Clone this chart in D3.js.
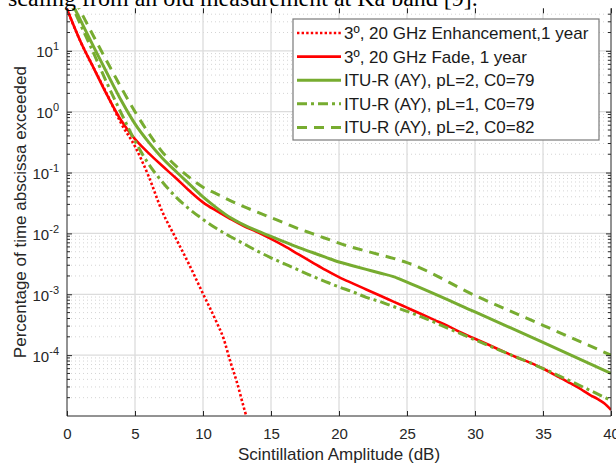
<!DOCTYPE html>
<html>
<head>
<meta charset="utf-8">
<script src="https://cdn.jsdelivr.net/npm/d3@7"></script>
<style>
  body { margin: 0; background: #fff; }
  svg { display: block; font-family: "Liberation Sans", Arial, sans-serif; }
</style>
</head>
<body>
<div id="wrapper"></div>
<script>
// amplitude (dB) and percentage of time
const enhX = [0, 1, 2, 3, 4, 5, 6, 7, 8, 9, 10, 11, 11.5, 12, 12.5, 13, 13.25];
const enhY = [48.5, 14.1, 5.01, 1.82, 0.631, 0.269, 0.0871, 0.0229, 0.00832, 0.00302,
  0.00102, 0.000347, 0.000191, 0.0000794, 0.0000355, 0.0000138, 0.0000089];

const fadeX = [0, 1, 2, 3, 4, 4.5, 5, 5.5, 6, 7, 8, 9, 10, 11, 12, 13, 14, 15, 16, 17, 18, 19, 20,
  21, 22, 23, 24, 25, 26, 27, 28, 29, 30, 31, 32, 33, 34, 35, 36, 36.5, 37, 37.5, 38, 38.5, 39, 39.5, 40];
const fadeY = [48.5, 14.1, 5.01, 1.78, 0.708, 0.490, 0.355, 0.269, 0.209, 0.129, 0.0813, 0.0501, 0.0324,
  0.0234, 0.0174, 0.0132, 0.0105, 0.00813, 0.00617, 0.00457, 0.00339, 0.00251, 0.00191,
  0.00151, 0.00120, 0.000955, 0.000759, 0.000603, 0.000479, 0.000380, 0.000302, 0.000234, 0.000186,
  0.000148, 0.000117, 0.0000933, 0.0000759, 0.0000603, 0.0000457, 0.0000400, 0.0000347, 0.0000302,
  0.0000257, 0.0000219, 0.0000191, 0.0000162, 0.0000126];

const ituX = [0, 1, 2, 3, 4, 5, 6, 7, 8, 9, 10, 11, 12, 13, 14, 15, 16, 17, 18, 19, 20,
  21, 22, 23, 24, 25, 30, 35, 40];
const itu279 = [89.1, 31.6, 11.2, 4.07, 1.51, 0.631, 0.316, 0.174, 0.105, 0.0646, 0.0398,
  0.0263, 0.0182, 0.0138, 0.0110, 0.00891, 0.00724, 0.00589, 0.00490, 0.00407, 0.00339,
  0.00295, 0.00257, 0.00224, 0.00195, 0.00158, 0.000513, 0.000162, 0.0000501];
const itu179 = [83.2, 26.9, 8.71, 2.75, 0.933, 0.331, 0.138, 0.0708, 0.0398, 0.0251, 0.0170,
  0.0120, 0.00891, 0.00676, 0.00513, 0.00398, 0.00316, 0.00251, 0.00200, 0.00162, 0.00132,
  0.00110, 0.000891, 0.000760, 0.000630, 0.000525, 0.000178, 0.0000603, 0.0000180];
const itu282 = [120, 44.7, 16.6, 6.31, 2.45, 1.0, 0.447, 0.219, 0.129, 0.0832, 0.0575,
  0.0447, 0.0347, 0.0275, 0.0224, 0.0182, 0.0148, 0.0120, 0.0100, 0.00832, 0.00692,
  0.00589, 0.00513, 0.00447, 0.00389, 0.00331, 0.000955, 0.000309, 0.000100];

const legendLabels = [
  "3º, 20 GHz Enhancement,1 year",
  "3º, 20 GHz Fade, 1 year",
  "ITU-R (AY), pL=2, C0=79",
  "ITU-R (AY), pL=1, C0=79",
  "ITU-R (AY), pL=2, C0=82"
];
const xTicks = [0, 5, 10, 15, 20, 25, 30, 35, 40];
const yTickExp = [-4, -3, -2, -1, 0, 1];

const red = "#ff0000";
const green = "#77ac30";

const series = [
  { xs: enhX, ys: enhY, color: red, width: 2.6, dash: "2.4,2.2" },
  { xs: fadeX, ys: fadeY, color: red, width: 2.6, dash: null },
  { xs: ituX, ys: itu279, color: green, width: 3, dash: null },
  { xs: ituX, ys: itu179, color: green, width: 3, dash: "10,4,3,4" },
  { xs: ituX, ys: itu282, color: green, width: 3, dash: "10,7" }
];

const dimensions = {
  width: 616,
  height: 463,
  margin: { top: 8.3, right: 5, bottom: 47, left: 67 }
};
dimensions.boundedWidth = dimensions.width - dimensions.margin.left - dimensions.margin.right;
dimensions.boundedHeight = dimensions.height - dimensions.margin.top - dimensions.margin.bottom;

const svg = d3.select("#wrapper").append("svg")
  .attr("width", dimensions.width)
  .attr("height", dimensions.height);

const bounds = svg.append("g")
  .attr("transform", `translate(${dimensions.margin.left},${dimensions.margin.top})`);

const xScale = d3.scaleLinear()
  .domain([0, 40])
  .range([0, dimensions.boundedWidth]);

const yScale = d3.scaleLog()
  .domain([1e-5, 50])
  .range([dimensions.boundedHeight, 0]);

// minor grid (dotted)
const minorVals = [];
for (let e = -5; e <= 1; e++) {
  for (let m = 2; m <= 9; m++) {
    const v = m * Math.pow(10, e);
    if (v < 50) minorVals.push(v);
  }
}
bounds.append("g").selectAll("line")
  .data(minorVals)
  .join("line")
  .attr("x1", 0).attr("x2", dimensions.boundedWidth)
  .attr("y1", d => yScale(d)).attr("y2", d => yScale(d))
  .attr("stroke", "#d4d4d4")
  .attr("stroke-width", 1)
  .attr("stroke-dasharray", "1,3");

// major grid
const majorY = yTickExp.map(e => Math.pow(10, e));
bounds.append("g").selectAll("line")
  .data(majorY)
  .join("line")
  .attr("x1", 0).attr("x2", dimensions.boundedWidth)
  .attr("y1", d => yScale(d)).attr("y2", d => yScale(d))
  .attr("stroke", "#dcdcdc")
  .attr("stroke-width", 1.3);
bounds.append("g").selectAll("line")
  .data(xTicks.slice(1, -1))
  .join("line")
  .attr("x1", d => xScale(d)).attr("x2", d => xScale(d))
  .attr("y1", 0).attr("y2", dimensions.boundedHeight)
  .attr("stroke", "#dcdcdc")
  .attr("stroke-width", 1.3);

// curves
svg.append("defs").append("clipPath").attr("id", "clip")
  .append("rect")
  .attr("width", dimensions.boundedWidth)
  .attr("height", dimensions.boundedHeight);

const lineGen = d3.line()
  .x(d => xScale(d[0]))
  .y(d => yScale(d[1]))
  .curve(d3.curveMonotoneX);

const plot = bounds.append("g").attr("clip-path", "url(#clip)");
series.forEach(s => {
  plot.append("path")
    .datum(s.xs.map((x, i) => [x, s.ys[i]]))
    .attr("d", lineGen)
    .attr("fill", "none")
    .attr("stroke", s.color)
    .attr("stroke-width", s.width)
    .attr("stroke-dasharray", s.dash);
});

// axes, ticks pointing inward
const axisColor = "#262626";
const xAxis = bounds.append("g")
  .attr("transform", `translate(0,${dimensions.boundedHeight})`)
  .call(d3.axisBottom(xScale).tickValues(xTicks).tickSizeInner(-5).tickSizeOuter(0).tickPadding(12));
bounds.append("g")
  .call(d3.axisTop(xScale).tickValues(xTicks).tickSizeInner(-5).tickSizeOuter(0).tickFormat(""));

const yAxis = bounds.append("g")
  .call(d3.axisLeft(yScale).tickValues(majorY).tickSizeInner(-5).tickSizeOuter(0).tickFormat(""));
bounds.append("g")
  .attr("transform", `translate(${dimensions.boundedWidth},0)`)
  .call(d3.axisRight(yScale).tickValues(majorY).tickSizeInner(-5).tickSizeOuter(0).tickFormat(""));

// minor ticks on both sides
bounds.append("g").selectAll("line")
  .data(minorVals)
  .join("line")
  .attr("x1", 0).attr("x2", 3)
  .attr("y1", d => yScale(d)).attr("y2", d => yScale(d))
  .attr("stroke", axisColor);
bounds.append("g").selectAll("line")
  .data(minorVals)
  .join("line")
  .attr("x1", dimensions.boundedWidth - 3).attr("x2", dimensions.boundedWidth)
  .attr("y1", d => yScale(d)).attr("y2", d => yScale(d))
  .attr("stroke", axisColor);

bounds.selectAll(".domain").remove();
bounds.selectAll(".tick line").attr("stroke", axisColor);
xAxis.selectAll("text")
  .attr("fill", axisColor)
  .style("font-size", "15px")
  .style("font-family", "'Liberation Sans', Arial, sans-serif");

// left / bottom / right axis lines
bounds.append("line")
  .attr("x1", 0).attr("x2", 0).attr("y1", 0).attr("y2", dimensions.boundedHeight)
  .attr("stroke", axisColor);
bounds.append("line")
  .attr("x1", 0).attr("x2", dimensions.boundedWidth)
  .attr("y1", dimensions.boundedHeight).attr("y2", dimensions.boundedHeight)
  .attr("stroke", axisColor);
bounds.append("line")
  .attr("x1", dimensions.boundedWidth).attr("x2", dimensions.boundedWidth)
  .attr("y1", 0).attr("y2", dimensions.boundedHeight)
  .attr("stroke", axisColor);

// y tick labels as 10^n
yAxis.selectAll(".tick").each(function(d, i) {
  const t = d3.select(this).append("text")
    .attr("x", -8)
    .attr("y", 6)
    .attr("text-anchor", "end")
    .attr("fill", axisColor)
    .style("font-size", "15px");
  t.append("tspan").text("10");
  t.append("tspan")
    .attr("dy", -7)
    .style("font-size", "11px")
    .text(yTickExp[i]);
});

// axis labels
bounds.append("text")
  .attr("x", dimensions.boundedWidth / 2)
  .attr("y", dimensions.boundedHeight + 44)
  .attr("text-anchor", "middle")
  .attr("fill", axisColor)
  .style("font-size", "17px")
  .text("Scintillation Amplitude (dB)");

bounds.append("text")
  .attr("transform", `translate(${-41},${dimensions.boundedHeight / 2}) rotate(-90)`)
  .attr("text-anchor", "middle")
  .attr("fill", axisColor)
  .style("font-size", "17px")
  .text("Percentage of time abscissa exceeded");

// legend
const legend = svg.append("g").attr("transform", "translate(293,19)");
legend.append("rect")
  .attr("width", 306).attr("height", 121)
  .attr("fill", "#fff")
  .attr("stroke", "#7a7a7a")
  .attr("stroke-width", 1.2);
legendLabels.forEach((label, i) => {
  const s = series[i];
  const yy = 14 + i * 23.6;
  legend.append("line")
    .attr("x1", 4).attr("x2", 48)
    .attr("y1", yy).attr("y2", yy)
    .attr("stroke", s.color)
    .attr("stroke-width", s.width)
    .attr("stroke-dasharray", s.dash);
  legend.append("text")
    .attr("x", 51)
    .attr("y", yy + 6)
    .attr("fill", "#1a1a1a")
    .style("font-size", "17px")
    .text(label);
});

// cropped caption line of the page this figure sits in
svg.append("text")
  .attr("x", 8)
  .attr("y", 5.5)
  .style("font-family", "'Liberation Serif', 'Times New Roman', serif")
  .style("font-size", "24px")
  .attr("fill", "#000")
  .text("scaling from an old measurement at Ka band [9].");
</script>
</body>
</html>
